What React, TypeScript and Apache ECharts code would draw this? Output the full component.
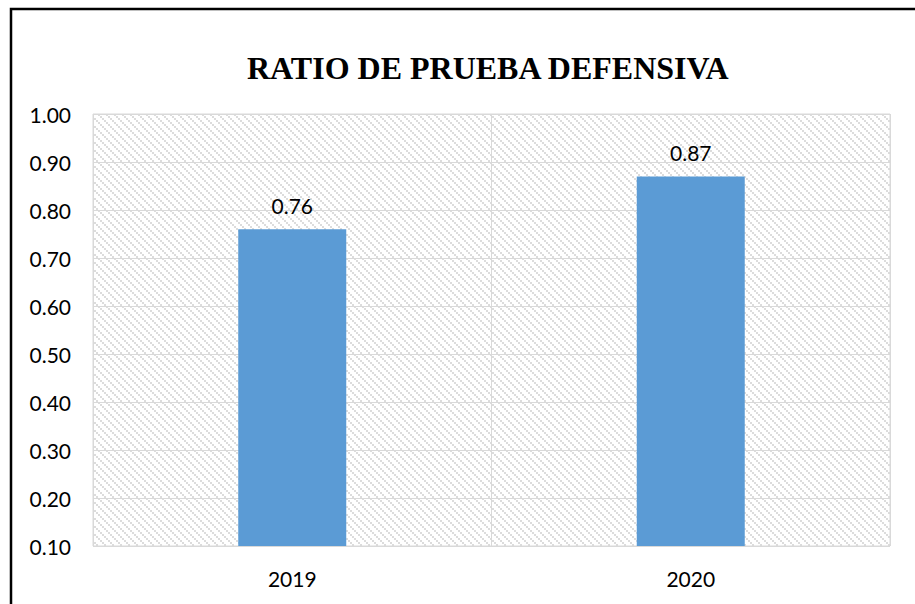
import React, { useEffect, useRef } from "react";
import * as echarts from "echarts";

const titleText = "RATIO DE PRUEBA DEFENSIVA";
const categories = ["2019", "2020"];
const values = [0.76, 0.87];
const yMin = 0.1;
const yMax = 1.0;
const yStep = 0.1;

function makePattern(): HTMLCanvasElement {
  const size = 8;
  const c = document.createElement("canvas");
  c.width = size;
  c.height = size;
  const ctx = c.getContext("2d")!;
  ctx.fillStyle = "#ffffff";
  ctx.fillRect(0, 0, size, size);
  ctx.fillStyle = "#dcdcdc";
  for (let i = 0; i < size; i += 2) {
    ctx.fillRect(i, i, 2, 2);
  }
  return c;
}

export default function App() {
  const ref = useRef<HTMLDivElement>(null);
  useEffect(() => {
    document.body.style.margin = "0";
    const chart = echarts.init(ref.current!, undefined, { renderer: "svg" });
    const pattern = makePattern();
    const labelFont = "Lato";
    chart.setOption({
      animation: false,
      backgroundColor: "#ffffff",
      title: {
        text: titleText,
        left: 242,
        top: 47,
        textStyle: {
          fontFamily: "Liberation Serif",
          fontWeight: "bold",
          fontSize: 32,
          color: "#000000",
        },
      },
      graphic: [
        {
          type: "rect",
          shape: { x: 11, y: 9, width: 1000, height: 1000 },
          style: { fill: "none", stroke: "#000000", lineWidth: 2.5 },
          z: 100,
        },
      ],
      grid: {
        left: 93,
        right: 25,
        top: 114,
        bottom: 58,
        show: true,
        backgroundColor: { image: pattern, repeat: "repeat" },
        borderColor: "#d9d9d9",
        borderWidth: 1,
      },
      xAxis: {
        type: "category",
        data: categories,
        axisLine: { show: false },
        axisTick: { show: false },
        splitLine: { show: true, lineStyle: { color: "#d9d9d9", width: 1 } },
        axisLabel: {
          fontFamily: labelFont,
          fontSize: 21,
          color: "#000000",
          margin: 22,
        },
      },
      yAxis: {
        type: "value",
        min: yMin,
        max: yMax,
        interval: yStep,
        axisLine: { show: false },
        axisTick: { show: false },
        splitLine: { lineStyle: { color: "#d9d9d9", width: 1 } },
        axisLabel: {
          fontFamily: labelFont,
          fontSize: 21,
          color: "#000000",
          margin: 22,
          formatter: (v: number) => v.toFixed(2),
        },
      },
      series: [
        {
          type: "bar",
          data: values,
          barWidth: 108,
          itemStyle: { color: "#5b9bd5" },
          label: {
            show: true,
            position: "top",
            distance: 13,
            fontFamily: labelFont,
            fontSize: 21,
            color: "#000000",
            formatter: (p: any) => p.value.toFixed(2),
          },
        },
      ],
    });
    return () => chart.dispose();
  }, []);
  return <div ref={ref} style={{ width: 915, height: 604 }} />;
}
